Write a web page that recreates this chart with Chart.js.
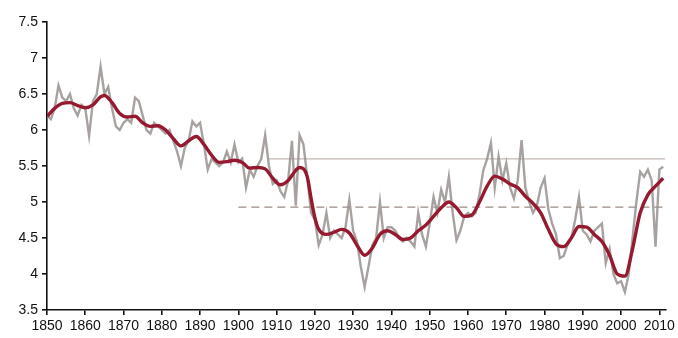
<!doctype html>
<html>

<head>
    <title>Annual series</title>
    <script src="https://cdn.jsdelivr.net/npm/chart.js"></script>
    <style>
        body { margin: 0; background: #fff; }
        #wrap { width: 678px; height: 338px; }
    </style>
</head>

<body>
    <div id="wrap"><canvas id="grafico"></canvas></div>

    <script>
        // annual values, 1850 .. 2011
        var firstYear = 1850;
        var annualValues = [
            6.20, 6.15, 6.30, 6.62, 6.45, 6.40, 6.50, 6.30, 6.20, 6.35,
            6.30, 5.92, 6.40, 6.50, 6.88, 6.50, 6.60, 6.30, 6.05, 6.00,
            6.10, 6.15, 6.10, 6.45, 6.40, 6.20, 6.00, 5.95, 6.10, 6.05,
            6.00, 5.95, 6.00, 5.85, 5.70, 5.50, 5.75, 5.85, 6.12, 6.05,
            6.10, 5.80, 5.45, 5.60, 5.55, 5.50, 5.55, 5.70, 5.55, 5.80,
            5.55, 5.60, 5.20, 5.45, 5.35, 5.50, 5.60, 5.93, 5.50, 5.25,
            5.30, 5.15, 5.07, 5.30, 5.85, 4.95, 5.93, 5.80, 5.35, 4.85,
            4.75, 4.40, 4.55, 4.85, 4.50, 4.60, 4.55, 4.50, 4.65, 5.03,
            4.60, 4.45, 4.10, 3.82, 4.10, 4.40, 4.50, 5.00, 4.50, 4.65,
            4.65, 4.60, 4.50, 4.45, 4.50, 4.45, 4.38, 4.85, 4.55, 4.38,
            4.70, 5.07, 4.85, 5.17, 5.00, 5.35, 4.85, 4.47, 4.60, 4.80,
            4.85, 4.80, 4.85, 5.10, 5.44, 5.60, 5.82, 5.20, 5.63, 5.30,
            5.54, 5.20, 5.05, 5.30, 5.86, 5.20, 5.00, 4.85, 4.95, 5.20,
            5.33, 4.90, 4.70, 4.55, 4.22, 4.25, 4.40, 4.50, 4.75, 5.07,
            4.60, 4.55, 4.45, 4.60, 4.65, 4.70, 4.15, 4.35, 4.00, 3.87,
            3.90, 3.75, 4.00, 4.50, 5.00, 5.42, 5.35, 5.45, 5.30, 4.38,
            5.45, 5.49
        ];

        // smoothed curve
        var smoothYears = [
            1850, 1852, 1854, 1856, 1858, 1860, 1862, 1864, 1865, 1867,
            1869, 1871, 1873, 1875, 1877, 1879, 1881, 1883, 1885, 1887,
            1889, 1891, 1893, 1895, 1897, 1899, 1901, 1903, 1905, 1907,
            1909, 1911, 1913, 1915, 1916, 1918, 1919, 1920, 1921, 1923,
            1925, 1927, 1929, 1931, 1933, 1935, 1937, 1939, 1941, 1943,
            1945, 1947, 1949, 1951, 1953, 1955, 1957, 1959, 1961, 1963,
            1965, 1967, 1969, 1971, 1973, 1975, 1977, 1979, 1981, 1983,
            1985, 1987, 1989, 1991, 1993, 1995, 1997, 1999, 2001, 2003,
            2005, 2007, 2009, 2011
        ];
        var smoothValues = [
            6.19, 6.30, 6.37, 6.38, 6.34, 6.31, 6.35, 6.46, 6.48, 6.38,
            6.23, 6.18, 6.19, 6.10, 6.05, 6.06, 6.00, 5.88, 5.78, 5.85,
            5.91, 5.80, 5.65, 5.55, 5.56, 5.58, 5.55, 5.47, 5.48, 5.46,
            5.33, 5.24, 5.30, 5.44, 5.48, 5.35, 5.05, 4.78, 4.62, 4.55,
            4.58, 4.62, 4.57, 4.40, 4.26, 4.36, 4.55, 4.60, 4.55, 4.48,
            4.50, 4.60, 4.68, 4.80, 4.92, 5.00, 4.92, 4.80, 4.82, 5.00,
            5.22, 5.36, 5.32, 5.25, 5.20, 5.08, 4.98, 4.85, 4.62, 4.42,
            4.38, 4.50, 4.66, 4.65, 4.55, 4.45, 4.26, 4.00, 3.97, 4.35,
            4.85, 5.10, 5.22, 5.33
        ];

        // reference levels
        var upperLevel = 5.6;
        var upperYears = [1908, 2011.5];
        var lowerLevel = 4.93;
        var lowerYears = [1900, 2011];

        var yTicks = [3.5, 4, 4.5, 5, 5.5, 6, 6.5, 7, 7.5];

        var annualPoints = annualValues.map((v, i) => ({ x: firstYear + i, y: v }));
        var smoothPoints = smoothYears.map((ano, i) => ({ x: ano, y: smoothValues[i] }));
        var upperPoints = upperYears.map(ano => ({ x: ano, y: upperLevel }));
        var lowerPoints = lowerYears.map(ano => ({ x: ano, y: lowerLevel }));

        var fonte = { family: 'Liberation Sans, Arial, sans-serif', size: 14 };

        var grafico = new Chart(document.getElementById('grafico').getContext('2d'), {
            type: 'line',
            data: {
                datasets: [{
                    label: 'smoothed',
                    data: smoothPoints,
                    borderColor: '#961a2f',
                    borderWidth: 3.4,
                    pointRadius: 0,
                    tension: 0.4,
                    cubicInterpolationMode: 'monotone'
                }, {
                    label: 'annual',
                    data: annualPoints,
                    borderColor: 'rgba(152, 146, 143, 0.85)',
                    borderWidth: 2.4,
                    pointRadius: 0,
                    tension: 0
                }, {
                    label: 'upper',
                    data: upperPoints,
                    borderColor: '#c4b8b4',
                    borderWidth: 1.2,
                    pointRadius: 0
                }, {
                    label: 'lower',
                    data: lowerPoints,
                    borderColor: '#9a8a84',
                    borderWidth: 1.3,
                    borderDash: [8, 5],
                    pointRadius: 0
                }]
            },
            options: {
                responsive: true,
                maintainAspectRatio: false,
                animation: false,
                layout: { padding: { top: 22, right: 9, left: 0, bottom: 0 } },
                plugins: {
                    legend: { display: false },
                    tooltip: { enabled: false }
                },
                scales: {
                    x: {
                        type: 'linear',
                        min: 1850,
                        max: 2011.6,
                        afterFit: (scale) => { scale.height = 28; },
                        border: { display: true, color: '#111', width: 1.6 },
                        grid: { drawOnChartArea: false, drawTicks: true, tickLength: 5, color: '#111', lineWidth: 1.6 },
                        ticks: {
                            stepSize: 10,
                            includeBounds: false,
                            autoSkip: false,
                            maxRotation: 0,
                            padding: 3,
                            color: '#111',
                            font: fonte,
                            callback: (v) => String(v)
                        }
                    },
                    y: {
                        min: 3.5,
                        max: 7.5,
                        afterFit: (scale) => { scale.width = 47; },
                        afterBuildTicks: (scale) => { scale.ticks = yTicks.map(v => ({ value: v })); },
                        border: { display: true, color: '#111', width: 1.6 },
                        grid: { drawOnChartArea: false, drawTicks: true, tickLength: 5, color: '#111', lineWidth: 1.6 },
                        ticks: {
                            padding: 4,
                            color: '#111',
                            font: fonte,
                            callback: (v) => String(v)
                        }
                    }
                }
            }
        });
    </script>
</body>

</html>
